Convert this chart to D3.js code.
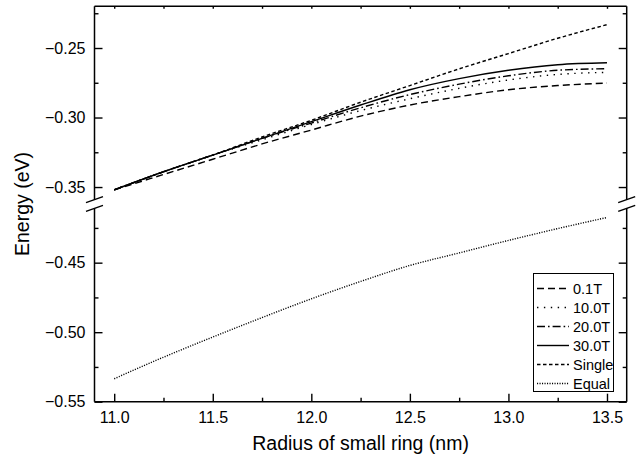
<!DOCTYPE html>
<html>
<head>
<meta charset="utf-8">
<script src="https://cdn.jsdelivr.net/npm/d3@7"></script>
<style>
  html, body { margin: 0; padding: 0; background: #fff; }
  svg { display: block; font-family: Arial, "Liberation Sans", sans-serif; }
</style>
</head>
<body>
<svg id="chart" width="638" height="461"></svg>
<script>
// ---- data ----
const radius = [11.0, 11.25, 11.5, 11.75, 12.0, 12.25, 12.5, 12.75, 13.0, 13.25, 13.5];
const seriesNames = ["0.1T", "10.0T", "20.0T", "30.0T", "Single", "Equal"];
const e01T   = [-0.352, -0.341, -0.330, -0.319, -0.309, -0.299, -0.291, -0.285, -0.280, -0.277, -0.2752];
const e10T   = [-0.352, -0.339, -0.327, -0.316, -0.305, -0.295, -0.2865, -0.279, -0.273, -0.269, -0.2675];
const e20T   = [-0.352, -0.339, -0.327, -0.315, -0.304, -0.293, -0.2835, -0.276, -0.270, -0.266, -0.2649];
const e30T   = [-0.352, -0.339, -0.327, -0.315, -0.303, -0.291, -0.280, -0.272, -0.266, -0.262, -0.2606];
const eSingle = [-0.352, -0.339, -0.327, -0.314, -0.302, -0.289, -0.277, -0.265, -0.254, -0.243, -0.2332];
const eEqual = [-0.5335, -0.518, -0.5035, -0.4895, -0.476, -0.4635, -0.452, -0.443, -0.434, -0.4255, -0.4175];
const xMajorTicks = [11.0, 11.5, 12.0, 12.5, 13.0, 13.5];
const xMinorTicks = [11.25, 11.75, 12.25, 12.75, 13.25];
const yMajorTicks = [-0.55, -0.50, -0.45, -0.35, -0.30, -0.25];
const yMinorTicks = [-0.525, -0.475, -0.425, -0.325, -0.275, -0.225];

const seriesValues = [e01T, e10T, e20T, e30T, eSingle, eEqual];
const dashes = ["7,4", "1.4,5.5", "8,3,1.6,3", null, "3.5,2.5", "1.1,1.4"];

// ---- layout ----
const svg = d3.select("#chart");
const L = 94.5, R = 626.7, T = 6.3, B = 401.7, BRK = 204;

const x = d3.scaleLinear().domain([10.9, 13.6]).range([L, R]);
const y = d3.scaleLinear()
  .domain([-0.55, -0.4078, -0.3622, -0.22])
  .range([B, BRK, BRK, T]);

const g = svg.append("g");

// curves
const line = d3.line()
  .x(d => x(d[0]))
  .y(d => y(d[1]))
  .curve(d3.curveMonotoneX);

seriesValues.forEach((vals, i) => {
  const pts = radius.map((r, k) => [r, vals[k]]);
  g.append("path")
    .attr("d", line(pts))
    .attr("fill", "none")
    .attr("stroke", "#000")
    .attr("stroke-width", 1.4)
    .attr("stroke-dasharray", dashes[i]);
});

// frame
const frame = g.append("g").attr("stroke", "#000").attr("stroke-width", 1.5).attr("fill", "none");
frame.append("line").attr("x1", L).attr("x2", R).attr("y1", B).attr("y2", B);
frame.append("line").attr("x1", L).attr("x2", R).attr("y1", T).attr("y2", T);
frame.append("line").attr("x1", L).attr("x2", L).attr("y1", T).attr("y2", B);
frame.append("line").attr("x1", R).attr("x2", R).attr("y1", T).attr("y2", B);

// axes (ticks inward)
const fmt = d3.format(".2f");
const xB = d3.axisBottom(x).tickValues(xMajorTicks).tickFormat(d3.format(".1f")).tickSizeInner(-8).tickSizeOuter(0).tickPadding(10);
const xBm = d3.axisBottom(x).tickValues(xMinorTicks).tickFormat("").tickSizeInner(-4).tickSizeOuter(0);
const xT = d3.axisTop(x).tickValues(xMajorTicks.concat(xMinorTicks)).tickFormat("").tickSizeInner(-2.5).tickSizeOuter(0);
const yL = d3.axisLeft(y).tickValues(yMajorTicks).tickFormat(fmt).tickSizeInner(-8).tickSizeOuter(0).tickPadding(9);
const yLm = d3.axisLeft(y).tickValues(yMinorTicks).tickFormat("").tickSizeInner(-4).tickSizeOuter(0);
const yR = d3.axisRight(y).tickValues(yMajorTicks).tickFormat("").tickSizeInner(-8).tickSizeOuter(0);
const yRm = d3.axisRight(y).tickValues(yMinorTicks).tickFormat("").tickSizeInner(-4).tickSizeOuter(0);

function styleAxis(sel) {
  sel.select(".domain").remove();
  sel.selectAll(".tick line").attr("stroke", "#000").attr("stroke-width", 1.4);
  sel.selectAll("text").attr("fill", "#000").style("font-size", "16px").style("font-family", "Arial, 'Liberation Sans', sans-serif");
}
g.append("g").attr("transform", `translate(0,${B})`).call(xB).call(styleAxis);
g.append("g").attr("transform", `translate(0,${B})`).call(xBm).call(styleAxis);
g.append("g").attr("transform", `translate(0,${T})`).call(xT).call(styleAxis);
g.append("g").attr("transform", `translate(${L},0)`).call(yL).call(styleAxis);
g.append("g").attr("transform", `translate(${L},0)`).call(yLm).call(styleAxis);
g.append("g").attr("transform", `translate(${R},0)`).call(yR).call(styleAxis);
g.append("g").attr("transform", `translate(${R},0)`).call(yRm).call(styleAxis);

// axis break marks
[L, R].forEach(ax => {
  g.append("rect").attr("x", ax - 2).attr("y", BRK - 4).attr("width", 4).attr("height", 8).attr("fill", "#fff");
  [-4.3, 4.3].forEach(off => {
    g.append("line")
      .attr("x1", ax - 8.5).attr("y1", BRK + off + 3)
      .attr("x2", ax + 8.5).attr("y2", BRK + off - 3)
      .attr("stroke", "#000").attr("stroke-width", 1.4);
  });
});

// axis titles
svg.append("text")
  .attr("x", (L + R) / 2).attr("y", 450)
  .attr("text-anchor", "middle")
  .style("font-size", "19.5px")
  .text("Radius of small ring (nm)");
svg.append("text")
  .attr("transform", `translate(29,${(T + B) / 2}) rotate(-90)`)
  .attr("text-anchor", "middle")
  .style("font-size", "19.5px")
  .text("Energy (eV)");

// legend
const lg = svg.append("g");
lg.append("rect").attr("x", 533.5).attr("y", 273.5).attr("width", 80).attr("height", 118)
  .attr("fill", "#fff").attr("stroke", "#000").attr("stroke-width", 1);
seriesNames.forEach((name, i) => {
  const yy = 288.5 + i * 19;
  lg.append("line").attr("x1", 537).attr("x2", 569).attr("y1", yy).attr("y2", yy)
    .attr("stroke", "#000").attr("stroke-width", 1.4).attr("stroke-dasharray", dashes[i]);
  lg.append("text").attr("x", 573).attr("y", yy + 5.3)
    .style("font-size", "14.5px").text(name);
});
</script>
</body>
</html>
